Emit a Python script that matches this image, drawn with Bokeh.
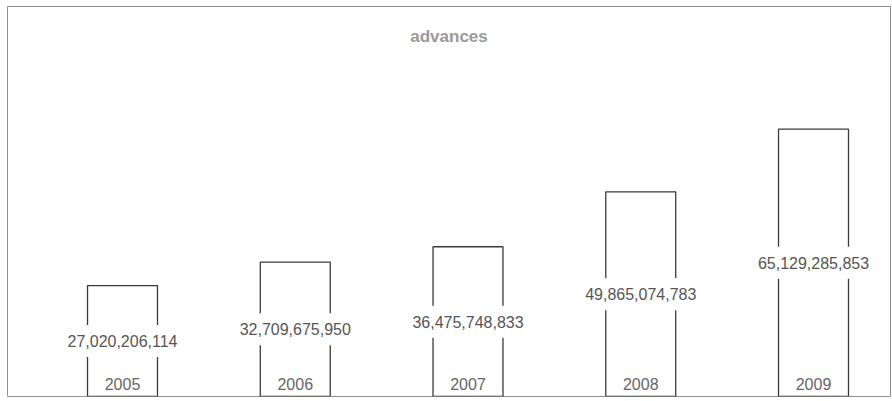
from bokeh.plotting import figure
from bokeh.models import ColumnDataSource, Label, Range1d
from bokeh.embed import file_html
from bokeh.resources import INLINE
from bokeh.core.properties import value

# ---- data ----
title_text = "advances"
years = ["2005", "2006", "2007", "2008", "2009"]
advances = [27020206114, 32709675950, 36475748833, 49865074783, 65129285853]

# ---- layout constants ----
W, H = 892, 400
B_LEFT, B_TOP, B_RIGHT, B_BOTTOM = 7, 6, 2, 4
FRAME_H = H - B_TOP - B_BOTTOM
Y_END = 95e9
X_START, X_END = -0.6657, 4.4457
FONT = "Liberation Sans"

idx = list(range(len(years)))
src = ColumnDataSource(dict(
    x=idx,
    top=advances,
    mid=[v / 2 for v in advances],
    base=[0] * len(years),
    label=[f"{v:,}" for v in advances],
    year=years,
))

p = figure(width=W, height=H, x_range=Range1d(X_START, X_END),
           y_range=Range1d(0, Y_END), output_backend="svg",
           toolbar_location=None,
           min_border_left=B_LEFT, min_border_top=B_TOP,
           min_border_right=B_RIGHT, min_border_bottom=B_BOTTOM)
p.axis.visible = False
p.grid.visible = False
p.outline_line_color = "#8f8f8f"
p.outline_line_width = 1
p.background_fill_color = "white"
p.border_fill_color = "white"

p.vbar(x="x", top="top", bottom=0, width=0.405, source=src,
       fill_color="white", line_color="#3a3a3a", line_width=1.3)

p.text(x="x", y="mid", text="label", source=src,
       text_align="center", text_baseline="middle",
       text_font=value(FONT), text_font_size="16px",
       text_color="#555555", background_fill_color="white",
       padding=10)

p.text(x="x", y="base", text="year", source=src, y_offset=-13,
       text_align="center", text_baseline="middle",
       text_font=value(FONT), text_font_size="16px",
       text_color="#666666")

title = Label(x=(X_START + X_END) / 2, y=Y_END * (1 - 30.0 / FRAME_H),
              text=title_text, text_align="center", text_baseline="middle",
              text_font=FONT, text_font_size="17px",
              text_font_style="bold", text_color="#999999")
p.add_layout(title)

open("out.html", "w").write(file_html(p, INLINE))
